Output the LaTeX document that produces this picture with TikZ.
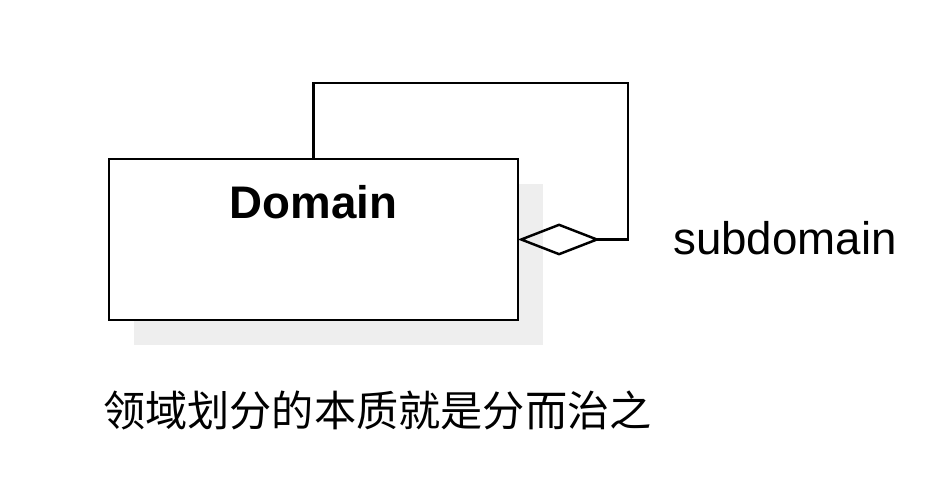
\documentclass[tikz,border=0pt]{standalone}
\usepackage{fontspec}
\setmainfont{Liberation Sans}
\newfontfamily\cjk{Noto Sans CJK SC}
\usetikzlibrary{positioning,arrows.meta,shadows}
\definecolor{Shade}{HTML}{EEEEEE}

\begin{document}
\begin{tikzpicture}[line width=1.6pt]
\useasboundingbox (0,0) rectangle (18.84,9.84);
\node[draw, fill=white, minimum width=8.18cm, minimum height=3.22cm, drop shadow={shadow xshift=0.5cm, shadow yshift=-0.5cm, fill=Shade, opacity=1}] (dom) at (6.27,5.05) {};
\node[font=\fontsize{26}{30}\selectfont\bfseries] (domname) at ([yshift=-0.9cm]dom.north) {Domain};
\coordinate (loopr) at (12.56,8.18);
\draw[-{Diamond[open,length=1.65cm,width=0.64cm,line width=1.4pt]}, shorten >=-0.9pt] (dom.north) |- (loopr) |- (dom.east);
\node[font=\fontsize{26}{30}\selectfont, anchor=west] (sub) at (13.32,5.08) {subdomain};
\node[font=\cjk\fontsize{24}{28}\selectfont, anchor=west] (motto) at (1.92,1.64) {领域划分的本质就是分而治之};
\end{tikzpicture}
\end{document}
